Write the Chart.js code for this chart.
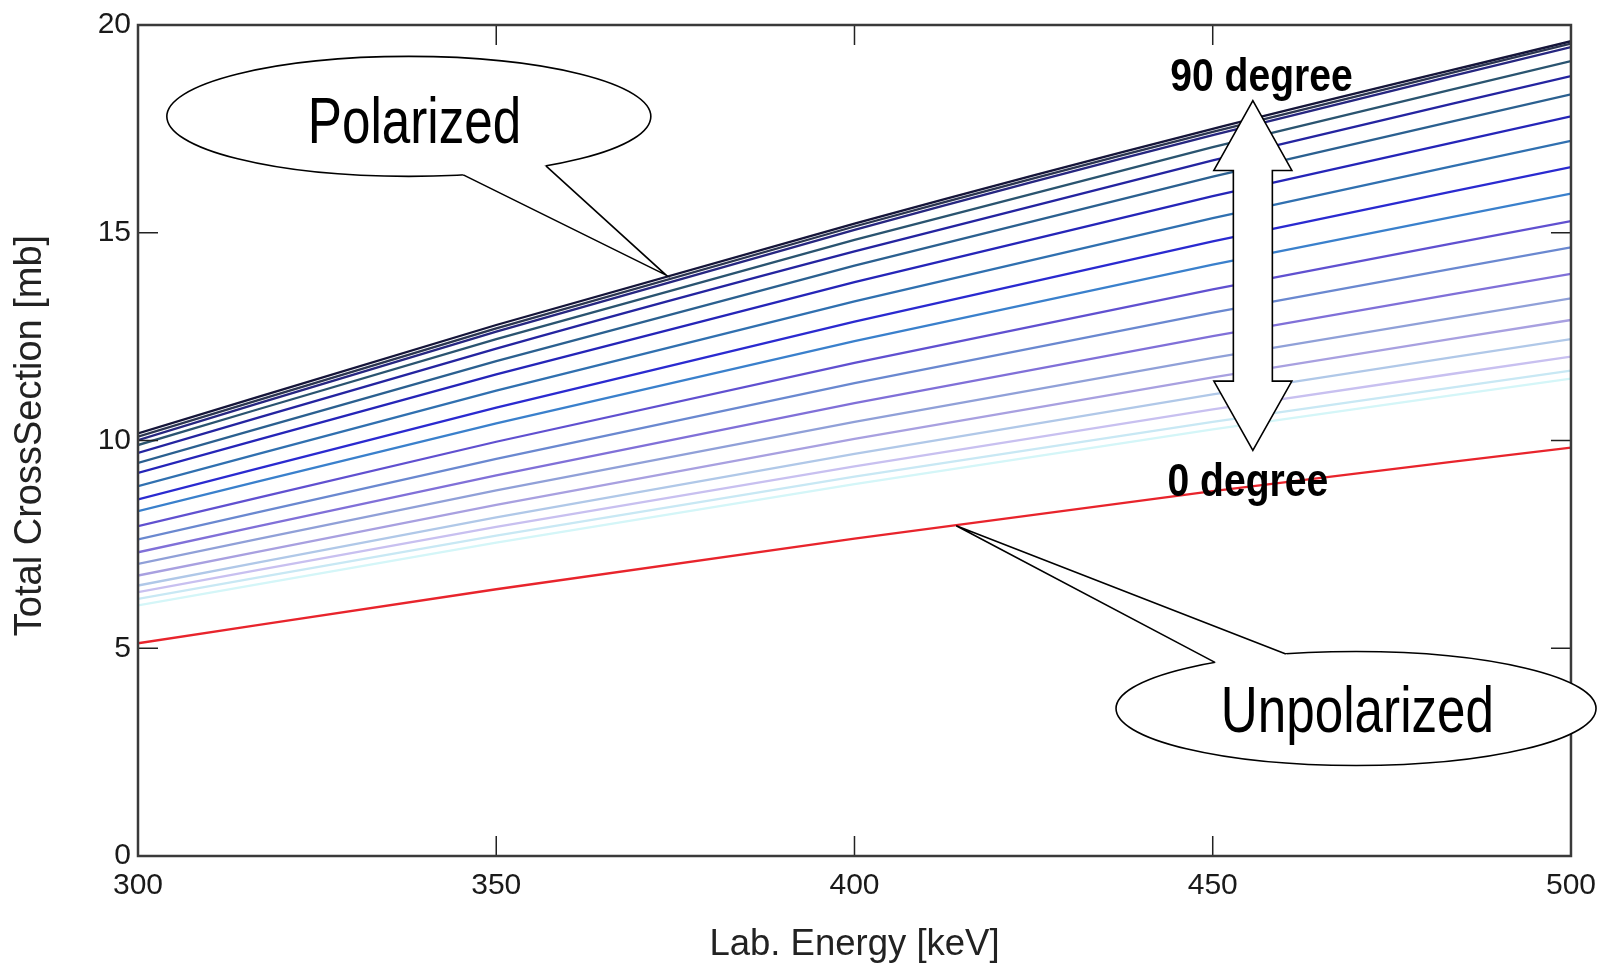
<!DOCTYPE html>
<html lang="en">
  <head>
    <meta charset="UTF-8" />
    <title>Total CrossSection vs Lab. Energy</title>
    <script src="https://cdn.jsdelivr.net/npm/chart.js"></script>
    <style>
      html, body { margin: 0; padding: 0; background: #fff; }
      #wrap { width: 1608px; height: 969px; }
    </style>
  </head>
  <body>
    <div id="wrap">
      <canvas id="grafico" width="1608" height="969"></canvas>
    </div>

    <script>
      // energies on the x axis (keV)
      var energies = [300, 350, 400, 450, 500];

      // polarization angle of each curve, top curve first
      var angles = [90, 85, 80, 75, 70, 65, 60, 55, 50, 45, 40, 35, 30, 25, 20, 15, 10, 5, 0];

      // total cross section [mb] for each angle, at the energies above
      var crossSections = [
        [10.17, 12.78, 15.22, 17.50, 19.61],
        [10.09, 12.70, 15.15, 17.43, 19.55],
        [10.01, 12.62, 15.07, 17.35, 19.47],
        [9.89, 12.44, 14.83, 17.06, 19.13],
        [9.70, 12.21, 14.55, 16.74, 18.77],
        [9.46, 11.91, 14.21, 16.35, 18.33],
        [9.22, 11.59, 13.81, 15.88, 17.80],
        [8.90, 11.20, 13.35, 15.35, 17.21],
        [8.58, 10.79, 12.86, 14.79, 16.58],
        [8.30, 10.41, 12.39, 14.23, 15.94],
        [7.94, 9.97, 11.87, 13.64, 15.28],
        [7.62, 9.56, 11.38, 13.08, 14.65],
        [7.31, 9.16, 10.90, 12.51, 14.01],
        [7.03, 8.80, 10.45, 11.99, 13.42],
        [6.75, 8.45, 10.04, 11.52, 12.90],
        [6.51, 8.15, 9.68, 11.11, 12.44],
        [6.35, 7.92, 9.38, 10.75, 12.02],
        [6.19, 7.71, 9.13, 10.45, 11.68],
        [6.03, 7.54, 8.95, 10.27, 11.49],
      ];

      // unpolarized cross section [mb]
      var unpolarized = [5.12, 6.42, 7.64, 8.78, 9.83];

      var lineColors = [
        "#15153a", "#2b3550", "#262680", "#2a5470", "#2424a0",
        "#2b6090", "#2525b8", "#3070b0", "#2a2ad0", "#3a80cc",
        "#6050d0", "#6a88d0", "#8070d8", "#90a0d8", "#a8a0e0",
        "#b0c8e8", "#c8c0f0", "#c8e8f4", "#d4f6f8",
      ];

      var xTicks = [350, 400, 450];
      var yTicks = [5, 10, 15];

      function toPoints(values) {
        var pts = [];
        for (var i = 0; i < energies.length; i++) {
          pts.push({ x: energies[i], y: values[i] });
        }
        return pts;
      }

      var datasets = [];
      for (var i = 0; i < angles.length; i++) {
        datasets.push({
          label: angles[i] + " degree",
          data: toPoints(crossSections[i]),
          borderColor: lineColors[i],
          borderWidth: 2.3,
          pointRadius: 0,
          cubicInterpolationMode: "monotone",
        });
      }
      datasets.push({
        label: "Unpolarized",
        data: toPoints(unpolarized),
        borderColor: "#e8242c",
        borderWidth: 2.3,
        pointRadius: 0,
        cubicInterpolationMode: "monotone",
      });

      // helpers for the drawing plugin
      function narrowText(ctx, str, x, y, font, sx) {
        ctx.save();
        ctx.translate(x, y);
        ctx.scale(sx, 1);
        ctx.font = font;
        ctx.textAlign = "center";
        ctx.textBaseline = "alphabetic";
        ctx.fillStyle = "#000";
        ctx.fillText(str, 0, 0);
        ctx.restore();
      }

      function callout(ctx, cx, cy, rx, ry, a1, a2, tx, ty) {
        ctx.beginPath();
        ctx.ellipse(cx, cy, rx, ry, 0, 0, 2 * Math.PI);
        ctx.fillStyle = "#fff";
        ctx.fill();
        ctx.lineWidth = 1.6;
        ctx.strokeStyle = "#000";
        ctx.stroke();

        var b1x = cx + rx * Math.cos(a1), b1y = cy + ry * Math.sin(a1);
        var b2x = cx + rx * Math.cos(a2), b2y = cy + ry * Math.sin(a2);
        // hide the outline where the tail joins
        ctx.beginPath();
        ctx.moveTo(cx + 0.9 * rx * Math.cos(a1), cy + 0.9 * ry * Math.sin(a1));
        ctx.lineTo(b1x, b1y);
        ctx.lineTo(tx, ty);
        ctx.lineTo(b2x, b2y);
        ctx.lineTo(cx + 0.9 * rx * Math.cos(a2), cy + 0.9 * ry * Math.sin(a2));
        ctx.closePath();
        ctx.fill();

        ctx.beginPath();
        ctx.moveTo(b1x, b1y);
        ctx.lineTo(tx, ty);
        ctx.lineTo(b2x, b2y);
        ctx.stroke();
      }

      var decorations = {
        id: "decorations",
        afterDraw: function (chart) {
          var ctx = chart.ctx;
          var a = chart.chartArea;
          var sx = chart.scales.x;
          var sy = chart.scales.y;
          var deg = Math.PI / 180;

          ctx.save();

          // tick marks pointing inside, on all four sides
          ctx.strokeStyle = "#222";
          ctx.lineWidth = 1.5;
          ctx.beginPath();
          xTicks.forEach(function (v) {
            var x = sx.getPixelForValue(v);
            ctx.moveTo(x, a.bottom);
            ctx.lineTo(x, a.bottom - 20);
            ctx.moveTo(x, a.top);
            ctx.lineTo(x, a.top + 20);
          });
          yTicks.forEach(function (v) {
            var y = sy.getPixelForValue(v);
            ctx.moveTo(a.left, y);
            ctx.lineTo(a.left + 20, y);
            ctx.moveTo(a.right, y);
            ctx.lineTo(a.right - 20, y);
          });
          ctx.stroke();

          // frame
          ctx.strokeStyle = "#3a3a3a";
          ctx.lineWidth = 2.5;
          ctx.strokeRect(a.left, a.top, a.right - a.left, a.bottom - a.top);

          // axis titles
          ctx.fillStyle = "#222";
          ctx.textAlign = "center";
          ctx.textBaseline = "alphabetic";
          ctx.font = "36.5px 'Liberation Sans', Arial, sans-serif";
          ctx.fillText("Lab. Energy [keV]", (a.left + a.right) / 2, 955);
          ctx.save();
          ctx.translate(41, (a.top + a.bottom) / 2 - 5);
          ctx.rotate(-Math.PI / 2);
          ctx.font = "38px 'Liberation Sans', Arial, sans-serif";
          ctx.fillText("Total CrossSection [mb]", 0, 0);
          ctx.restore();

          // callouts
          callout(ctx, sx.getPixelForValue(337.8), sy.getPixelForValue(17.8), 242, 60,
            77 * deg, 55.5 * deg, sx.getPixelForValue(373.7), sy.getPixelForValue(13.98));
          narrowText(ctx, "Polarized", sx.getPixelForValue(338.6), sy.getPixelForValue(17.15),
            "64px 'Liberation Sans', Arial, sans-serif", 0.8);

          callout(ctx, sx.getPixelForValue(470.0), sy.getPixelForValue(3.55), 240, 57,
            -126 * deg, -107 * deg, sx.getPixelForValue(414.2), sy.getPixelForValue(7.95));
          narrowText(ctx, "Unpolarized", sx.getPixelForValue(470.2), sy.getPixelForValue(2.98),
            "64px 'Liberation Sans', Arial, sans-serif", 0.8);

          // double arrow between 0 and 90 degree
          var cx = sx.getPixelForValue(455.6);
          var yTop = sy.getPixelForValue(18.18);
          var yH1 = sy.getPixelForValue(16.5);
          var yH2 = sy.getPixelForValue(11.43);
          var yBot = sy.getPixelForValue(9.76);
          var hw = 39, sw = 19.5;
          ctx.beginPath();
          ctx.moveTo(cx, yTop);
          ctx.lineTo(cx + hw, yH1);
          ctx.lineTo(cx + sw, yH1);
          ctx.lineTo(cx + sw, yH2);
          ctx.lineTo(cx + hw, yH2);
          ctx.lineTo(cx, yBot);
          ctx.lineTo(cx - hw, yH2);
          ctx.lineTo(cx - sw, yH2);
          ctx.lineTo(cx - sw, yH1);
          ctx.lineTo(cx - hw, yH1);
          ctx.closePath();
          ctx.fillStyle = "#fff";
          ctx.fill();
          ctx.lineWidth = 1.6;
          ctx.strokeStyle = "#000";
          ctx.stroke();

          narrowText(ctx, "90 degree", sx.getPixelForValue(456.8), sy.getPixelForValue(18.41),
            "bold 46px 'Liberation Sans', Arial, sans-serif", 0.85);
          narrowText(ctx, "0 degree", sx.getPixelForValue(454.9), sy.getPixelForValue(8.67),
            "bold 46px 'Liberation Sans', Arial, sans-serif", 0.85);

          ctx.restore();
        },
      };

      var tickFont = { family: "'Liberation Sans', Arial, sans-serif", size: 30 };

      new Chart(document.getElementById("grafico"), {
        type: "line",
        data: { datasets: datasets },
        options: {
          responsive: false,
          animation: false,
          layout: { padding: { top: 19, right: 32, left: 0, bottom: 0 } },
          plugins: {
            legend: { display: false },
            tooltip: { enabled: false },
          },
          scales: {
            x: {
              type: "linear",
              min: 300,
              max: 500,
              grid: { display: false, drawTicks: false },
              border: { display: false },
              ticks: { stepSize: 50, padding: 12, color: "#1a1a1a", font: tickFont, maxRotation: 0 },
              afterFit: function (s) { s.height = 113; },
            },
            y: {
              min: 0,
              max: 20,
              grid: { display: false, drawTicks: false },
              border: { display: false },
              ticks: { stepSize: 5, padding: 7, color: "#1a1a1a", font: tickFont },
              afterFit: function (s) { s.width = 138; },
            },
          },
        },
        plugins: [decorations],
      });
    </script>
  </body>
</html>
